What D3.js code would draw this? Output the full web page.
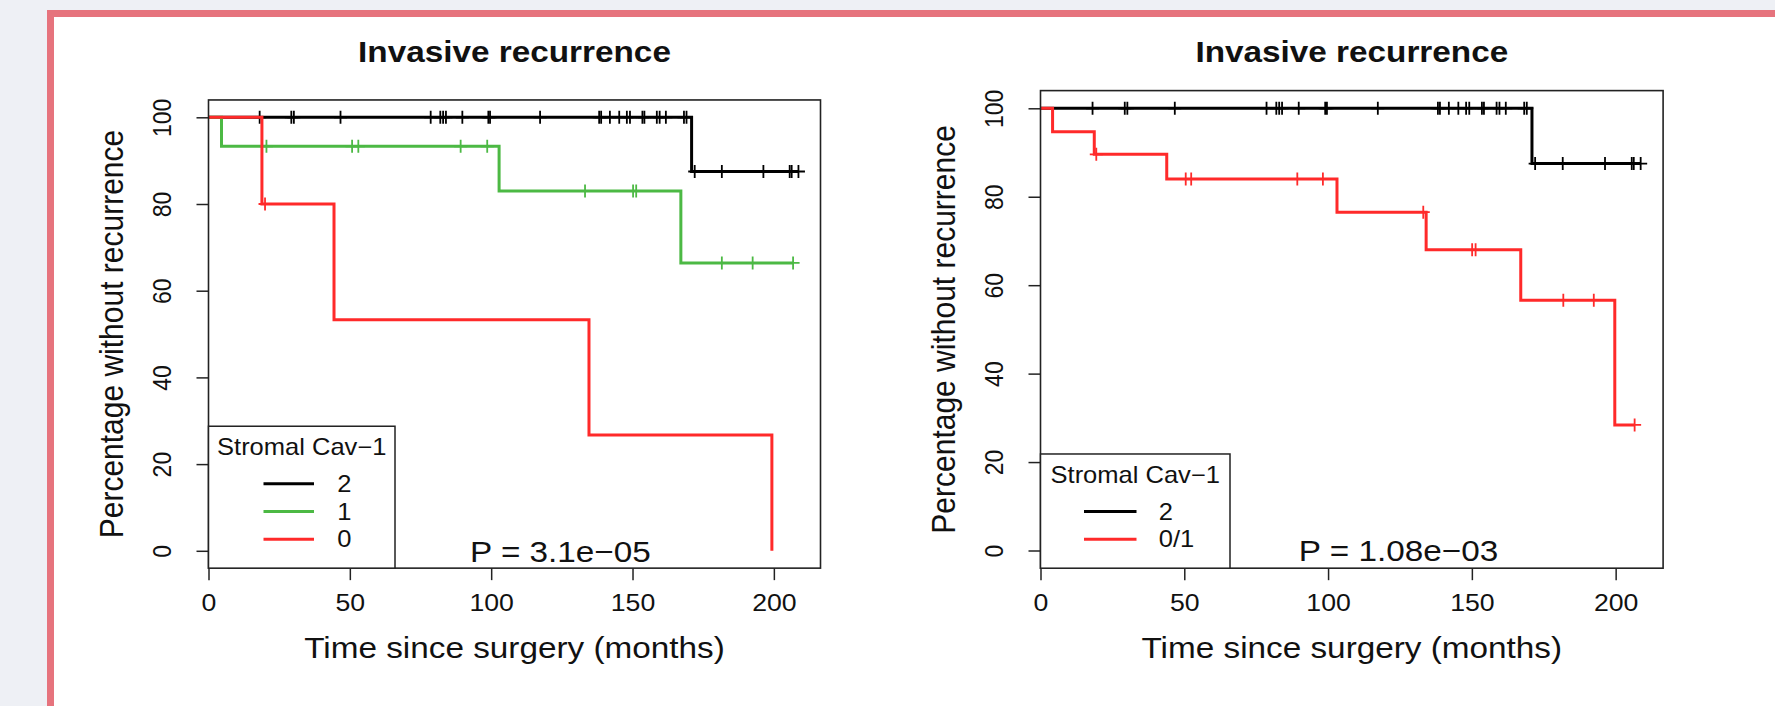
<!DOCTYPE html>
<html><head><meta charset="utf-8">
<script src="https://cdn.jsdelivr.net/npm/d3@7"></script>
<style>
html,body{margin:0;padding:0;background:#eef0f5;}
svg{display:block;}
</style></head><body>
<svg id="c" width="1775" height="706"></svg>
<script>
// ---------------- data ----------------
const xTicks = [0, 50, 100, 150, 200];
const yTicks = [0, 20, 40, 60, 80, 100];
const titleText = "Invasive recurrence";
const xLabel = "Time since surgery (months)";
const yLabel = "Percentage without recurrence";
const legendTitle = "Stromal Cav\u22121";

// group "2" (same in both panels)
const g2Events = [170.9];
const g2Levels = [87.5];
const g2Censor = [18.1, 29.3, 30.2, 46.7, 78.6, 82, 83, 84, 89.8, 99, 99.6, 117.3, 138.2, 138.9, 142, 145.3, 148, 149.1, 153.5, 154.2, 158.6, 159.6, 161.8, 168.2, 169.1, 172, 181.6, 196.3, 205.6, 206.3, 208.7];
const g2End = 208.7;

// left panel group "1"
const g1Events = [4.6, 102.8, 167.1];
const g1Levels = [93.3, 83.0, 66.4];
const g1Censor = [20.5, 50.8, 53, 89.2, 98.6, 133.2, 150.2, 151.3, 181.6, 192.5, 206.8];
const g1End = 206.8;

// left panel group "0"
const g0Events = [18.9, 44.4, 134.6, 199.3];
const g0Levels = [80, 53.3, 26.7, 0];
const g0Censor = [20.0];
const g0End = 199.3;

// right panel group "0/1"
const g01Events = [4.2, 18.7, 43.9, 103.1, 134.1, 167.0, 199.7];
const g01Levels = [94.7, 89.6, 84.0, 76.5, 68.0, 56.6, 28.4];
const g01Censor = [19.4, 50.5, 52.4, 89.3, 98.2, 133.1, 150.1, 151.3, 181.8, 192.4, 206.6];
const g01End = 206.6;

const leftLegendLabels = ["2", "1", "0"];
const rightLegendLabels = ["2", "0/1"];
const leftP = "P = 3.1e\u221205";
const rightP = "P = 1.08e\u221203";

// ---------------- styling / layout ----------------
const FONT = '"Liberation Sans", Arial, Helvetica, sans-serif';
const SX = 1.11;
const COL = { black: "#000000", green: "#4cb944", red: "#ff2a2a" };
const AX = "#222";

const svg = d3.select("#c");

// pink frame
svg.append("rect").attr("x", 50.5).attr("y", 13.5).attr("width", 2000).attr("height", 2000)
  .attr("fill", "#ffffff").attr("stroke", "#e6737d").attr("stroke-width", 7);

function stretchedText(g, x, y, txt, size, opts = {}) {
  const t = g.append("text")
    .attr("transform", `translate(${x},${y}) scale(${SX},1)` + (opts.rotate ? " rotate(-90)" : ""))
    .attr("font-family", FONT).attr("font-size", size)
    .attr("text-anchor", opts.anchor || "middle")
    .attr("font-weight", opts.bold ? "bold" : "normal")
    .attr("fill", "#111").text(txt);
  return t;
}

function drawPanel(cfg) {
  const g = svg.append("g");
  const x = d3.scaleLinear().domain([0, 216.5]).range(cfg.xr);
  const y = d3.scaleLinear().domain([0, 100]).range(cfg.yr);
  const bx0 = x(0), bx1 = x(216.5), by0 = y(104), by1 = y(-4);
  const cx = (bx0 + bx1) / 2, cy = (by0 + by1) / 2;

  // survival curves
  cfg.series.forEach(s => {
    const pts = [[0, 100]].concat(s.events.map((t, i) => [t, s.levels[i]]));
    pts.push([s.end, s.levels[s.levels.length - 1]]);
    g.append("path")
      .attr("d", d3.line().x(d => x(d[0])).y(d => y(d[1])).curve(d3.curveStepAfter)(pts))
      .attr("fill", "none").attr("stroke", s.color).attr("stroke-width", 3);
    const levelAt = t => {
      let lv = 100;
      s.events.forEach((e, i) => { if (e <= t) lv = s.levels[i]; });
      return lv;
    };
    g.append("g").selectAll("path").data(s.censor).join("path")
      .attr("d", t => {
        const px = x(t), py = y(levelAt(t));
        return `M${px - 6.5},${py}H${px + 6.5}M${px},${py - 6.5}V${py + 6.5}`;
      })
      .attr("stroke", s.color).attr("stroke-width", 1.8).attr("fill", "none");
  });

  // box
  g.append("rect").attr("x", bx0).attr("y", by0).attr("width", bx1 - bx0).attr("height", by1 - by0)
    .attr("fill", "none").attr("stroke", AX).attr("stroke-width", 1.6);

  // x axis
  const xa = g.append("g").attr("transform", `translate(0,${by1})`)
    .call(d3.axisBottom(x).tickValues(xTicks).tickSize(12).tickSizeOuter(0));
  xa.select(".domain").remove();
  xa.selectAll(".tick line").attr("stroke", AX).attr("stroke-width", 1.5);
  xa.selectAll(".tick text").attr("y", null).attr("dy", null)
    .attr("transform", `translate(0,${611 - by1}) scale(${SX},1)`)
    .attr("font-family", FONT).attr("font-size", 24).attr("fill", "#111");

  // y axis
  const ya = g.append("g").attr("transform", `translate(${bx0},0)`)
    .call(d3.axisLeft(y).tickValues(yTicks).tickSize(12).tickSizeOuter(0));
  ya.select(".domain").remove();
  ya.selectAll(".tick line").attr("stroke", AX).attr("stroke-width", 1.5);
  ya.selectAll(".tick text").attr("x", null).attr("dy", null).attr("text-anchor", "middle")
    .attr("transform", `translate(-37.5,0) scale(${SX},1) rotate(-90)`)
    .attr("font-family", FONT).attr("font-size", 23).attr("fill", "#111");

  // titles
  stretchedText(g, cx, cfg.titleY, titleText, 30, { bold: true });
  stretchedText(g, cx, 658.3, xLabel, 30);
  stretchedText(g, bx0 - 86, cy, yLabel, 30, { rotate: true });

  // P value
  stretchedText(g, x(124.5), y(0) + 10.9, cfg.p, 30);

  // legend
  const n = cfg.legendLabels.length;
  const entryY = i => by1 - 29 - 27.7 * (n - 1 - i);
  const legTop = entryY(0) - 57.5;
  g.append("rect").attr("x", bx0).attr("y", legTop).attr("width", cfg.legW).attr("height", by1 - legTop)
    .attr("fill", "#fff").attr("stroke", AX).attr("stroke-width", 1.5);
  stretchedText(g, bx0 + cfg.legW / 2, legTop + 29, legendTitle, 23);
  cfg.legendLabels.forEach((lab, i) => {
    const yy = entryY(i);
    g.append("line").attr("x1", bx0 + cfg.legLine[0]).attr("x2", bx0 + cfg.legLine[1])
      .attr("y1", yy).attr("y2", yy).attr("stroke", cfg.legendColors[i]).attr("stroke-width", 3);
    stretchedText(g, bx0 + cfg.legText, yy + 8.2, lab, 23, { anchor: "start" });
  });
}

drawPanel({
  xr: [208.5, 820.5], yr: [550.8, 117.3], titleY: 61.7,
  series: [
    { events: g2Events, levels: g2Levels, censor: g2Censor, end: g2End, color: COL.black },
    { events: g1Events, levels: g1Levels, censor: g1Censor, end: g1End, color: COL.green },
    { events: g0Events, levels: g0Levels, censor: g0Censor, end: g0End, color: COL.red }
  ],
  legendLabels: leftLegendLabels, legendColors: [COL.black, COL.green, COL.red],
  legW: 186.5, legLine: [55, 105.5], legText: 128.8, p: leftP
});

drawPanel({
  xr: [1040.5, 1663.1], yr: [550.5, 108.3], titleY: 62,
  series: [
    { events: g2Events, levels: g2Levels, censor: g2Censor, end: g2End, color: COL.black },
    { events: g01Events, levels: g01Levels, censor: g01Censor, end: g01End, color: COL.red }
  ],
  legendLabels: rightLegendLabels, legendColors: [COL.black, COL.red],
  legW: 189.5, legLine: [43.5, 96], legText: 118.3, p: rightP
});
</script>
</body></html>
